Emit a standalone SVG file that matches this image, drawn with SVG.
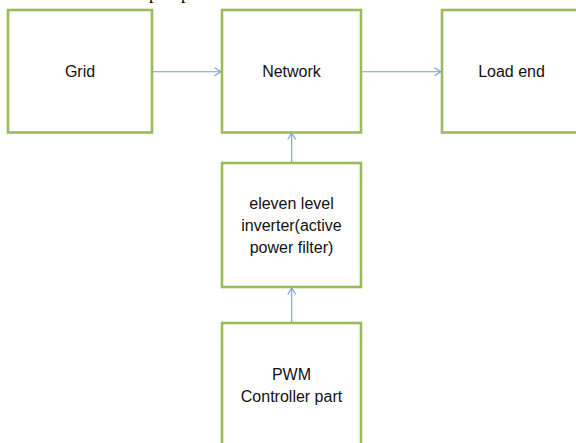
<svg xmlns="http://www.w3.org/2000/svg" width="576" height="443" viewBox="0 0 576 443">
<style>
.box{fill:#fff;stroke:#9BBB59;stroke-width:2.6}
.lbl{font-family:"Liberation Sans",Arial,sans-serif;font-size:16px;fill:#111;text-anchor:middle}
.conn{stroke:#7E9DCB;stroke-width:1.1;fill:none;marker-end:url(#arr)}
.cut{font-family:"Liberation Serif","Times New Roman",serif;font-size:18px;fill:#000}
</style>
<defs>
<marker id="arr" viewBox="0 0 10 10" refX="9.5" refY="5" markerWidth="10" markerHeight="10" markerUnits="userSpaceOnUse" orient="auto">
<path d="M3,1 L9.5,5 L3,9" fill="none" stroke="#7E9DCB" stroke-width="1.1"/>
</marker>
</defs>
<rect width="576" height="443" fill="#fff"/>
<text class="cut" x="149" y="-1.5">p</text>
<text class="cut" x="181" y="-1.5">p</text>
<g id="connectors">
<line class="conn" x1="152" y1="71.7" x2="221" y2="71.7"/>
<line class="conn" x1="361" y1="71.7" x2="441" y2="71.7"/>
<line class="conn" x1="291.7" y1="163" x2="291.7" y2="133"/>
<line class="conn" x1="291.7" y1="323" x2="291.7" y2="288"/>
</g>
<g id="grid">
<rect class="box" x="8" y="10" width="144" height="122.5"/>
<text class="lbl" x="80" y="77">Grid</text>
</g>
<g id="network">
<rect class="box" x="222" y="10" width="139" height="122.5"/>
<text class="lbl" x="291.5" y="77">Network</text>
</g>
<g id="load">
<rect class="box" x="442" y="10" width="139" height="122.5"/>
<text class="lbl" x="511.5" y="77">Load end</text>
</g>
<g id="inverter">
<rect class="box" x="222" y="163" width="139" height="124"/>
<text class="lbl" x="291.5" y="209">eleven level</text>
<text class="lbl" x="291.5" y="231">inverter(active</text>
<text class="lbl" x="291.5" y="253">power filter)</text>
</g>
<g id="pwm">
<rect class="box" x="222" y="323" width="139" height="130"/>
<text class="lbl" x="291.5" y="380">PWM</text>
<text class="lbl" x="291.5" y="402">Controller part</text>
</g>
</svg>
